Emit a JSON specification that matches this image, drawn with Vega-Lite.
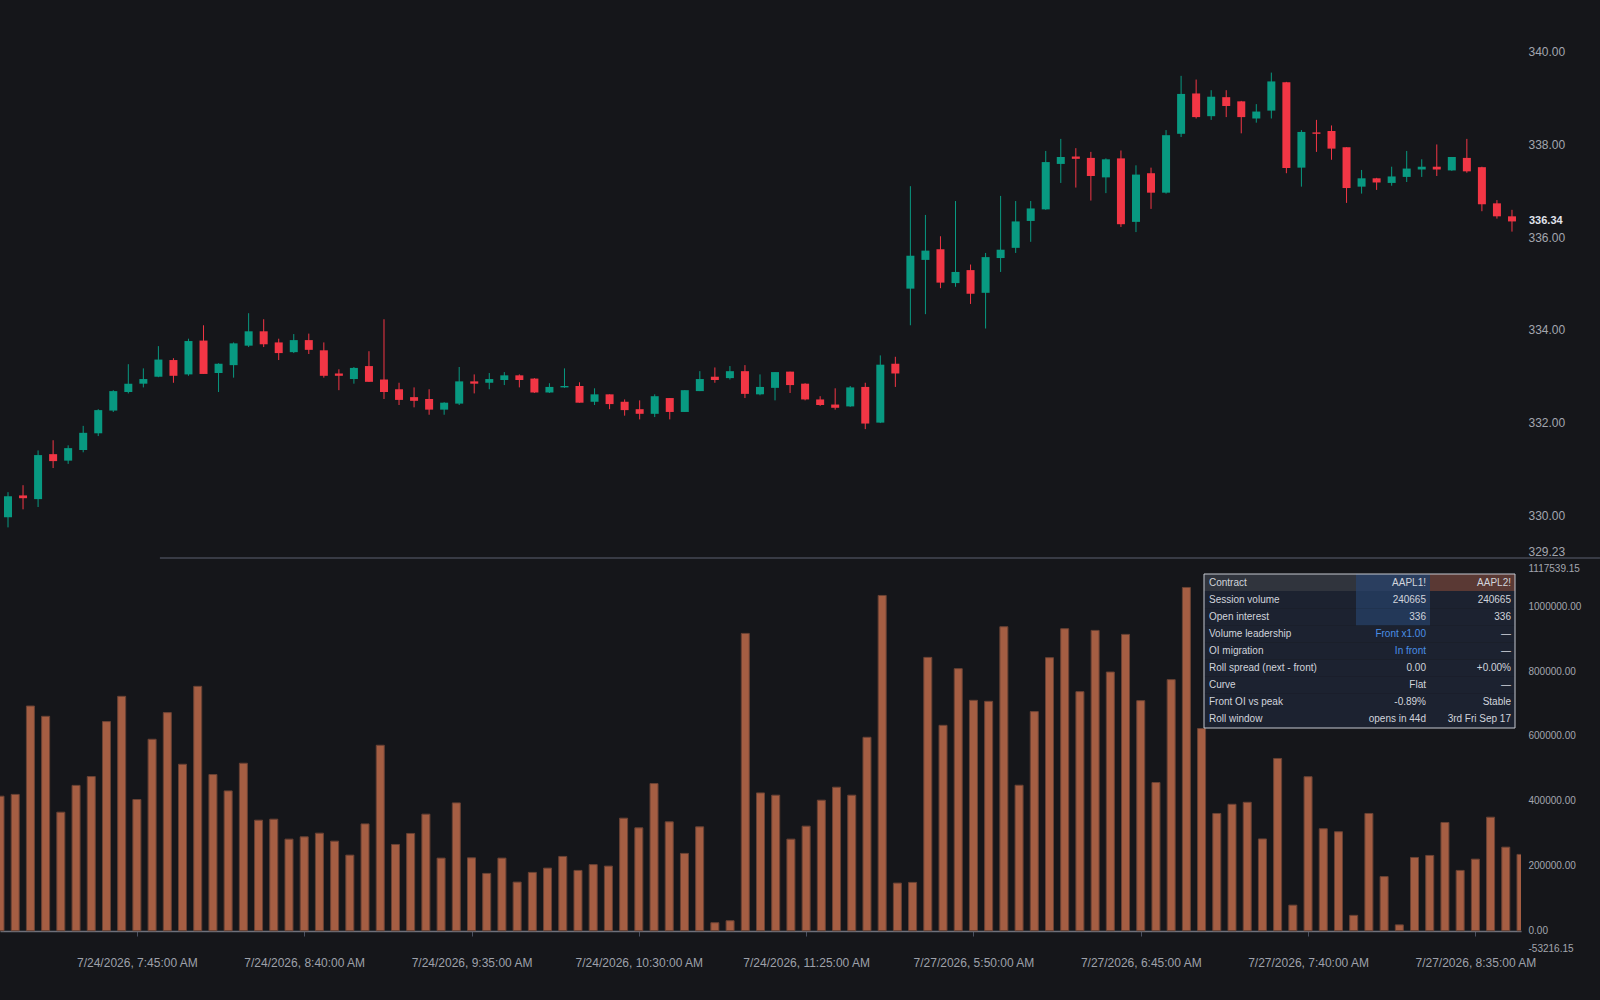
{
  "$schema": "https://vega.github.io/schema/vega-lite/v6.json",
  "background": "#15161a",
  "padding": {"left": 0, "top": 0, "right": 0, "bottom": 32},
  "bounds": "flush",
  "spacing": 10,
  "config": {"view": {"stroke": null}, "font": "Liberation Sans", "axis": {"labelFont": "Liberation Sans"}, "text": {"font": "Liberation Sans"}},
  "datasets": {
    "bars": [
      {"i":0,"o":329.96,"h":330.50,"l":329.74,"c":330.41,"v":414500},
      {"i":1,"o":330.43,"h":330.65,"l":330.13,"c":330.37,"v":420000},
      {"i":2,"o":330.35,"h":331.40,"l":330.18,"c":331.30,"v":692300},
      {"i":3,"o":331.32,"h":331.62,"l":331.02,"c":331.17,"v":660600},
      {"i":4,"o":331.18,"h":331.51,"l":331.11,"c":331.45,"v":365200},
      {"i":5,"o":331.41,"h":331.93,"l":331.36,"c":331.78,"v":447800},
      {"i":6,"o":331.77,"h":332.29,"l":331.71,"c":332.27,"v":475000},
      {"i":7,"o":332.26,"h":332.70,"l":332.23,"c":332.68,"v":644300},
      {"i":8,"o":332.66,"h":333.26,"l":332.63,"c":332.84,"v":722200},
      {"i":9,"o":332.84,"h":333.17,"l":332.76,"c":332.94,"v":404300},
      {"i":10,"o":332.99,"h":333.65,"l":332.98,"c":333.36,"v":589900},
      {"i":11,"o":333.35,"h":333.39,"l":332.86,"c":333.01,"v":672000},
      {"i":12,"o":333.04,"h":333.81,"l":333.01,"c":333.76,"v":512900},
      {"i":13,"o":333.77,"h":334.10,"l":333.05,"c":333.05,"v":753000},
      {"i":14,"o":333.07,"h":333.28,"l":332.66,"c":333.27,"v":481200},
      {"i":15,"o":333.24,"h":333.73,"l":332.97,"c":333.71,"v":430800},
      {"i":16,"o":333.66,"h":334.36,"l":333.63,"c":333.97,"v":516000},
      {"i":17,"o":333.97,"h":334.23,"l":333.63,"c":333.69,"v":340600},
      {"i":18,"o":333.73,"h":333.81,"l":333.35,"c":333.50,"v":343700},
      {"i":19,"o":333.52,"h":333.91,"l":333.50,"c":333.78,"v":282200},
      {"i":20,"o":333.78,"h":333.92,"l":333.48,"c":333.57,"v":289200},
      {"i":21,"o":333.56,"h":333.73,"l":332.97,"c":333.01,"v":300600},
      {"i":22,"o":333.06,"h":333.15,"l":332.70,"c":333.01,"v":276000},
      {"i":23,"o":332.94,"h":333.20,"l":332.84,"c":333.18,"v":232900},
      {"i":24,"o":333.22,"h":333.54,"l":332.88,"c":332.88,"v":329200},
      {"i":25,"o":332.93,"h":334.23,"l":332.51,"c":332.66,"v":571400},
      {"i":26,"o":332.72,"h":332.86,"l":332.38,"c":332.49,"v":265800},
      {"i":27,"o":332.55,"h":332.76,"l":332.33,"c":332.47,"v":299700},
      {"i":28,"o":332.51,"h":332.72,"l":332.17,"c":332.28,"v":359100},
      {"i":29,"o":332.28,"h":332.44,"l":332.17,"c":332.43,"v":223700},
      {"i":30,"o":332.41,"h":333.20,"l":332.38,"c":332.89,"v":393900},
      {"i":31,"o":332.89,"h":333.04,"l":332.63,"c":332.84,"v":224600},
      {"i":32,"o":332.86,"h":333.07,"l":332.72,"c":332.94,"v":176600},
      {"i":33,"o":332.92,"h":333.09,"l":332.81,"c":333.02,"v":223700},
      {"i":34,"o":333.02,"h":333.04,"l":332.76,"c":332.92,"v":149800},
      {"i":35,"o":332.95,"h":332.96,"l":332.64,"c":332.65,"v":179700},
      {"i":36,"o":332.65,"h":332.85,"l":332.64,"c":332.77,"v":192900},
      {"i":37,"o":332.76,"h":333.17,"l":332.75,"c":332.79,"v":228900},
      {"i":38,"o":332.79,"h":332.87,"l":332.43,"c":332.43,"v":185800},
      {"i":39,"o":332.45,"h":332.74,"l":332.38,"c":332.61,"v":203700},
      {"i":40,"o":332.61,"h":332.61,"l":332.29,"c":332.40,"v":199100},
      {"i":41,"o":332.45,"h":332.50,"l":332.15,"c":332.27,"v":346800},
      {"i":42,"o":332.29,"h":332.48,"l":332.07,"c":332.19,"v":316900},
      {"i":43,"o":332.19,"h":332.61,"l":332.12,"c":332.57,"v":453500},
      {"i":44,"o":332.53,"h":332.53,"l":332.07,"c":332.23,"v":335400},
      {"i":45,"o":332.23,"h":332.70,"l":332.23,"c":332.70,"v":238200},
      {"i":46,"o":332.68,"h":333.11,"l":332.68,"c":332.94,"v":320000},
      {"i":47,"o":332.99,"h":333.19,"l":332.86,"c":332.92,"v":24600},
      {"i":48,"o":332.96,"h":333.22,"l":332.93,"c":333.11,"v":30800},
      {"i":49,"o":333.11,"h":333.24,"l":332.53,"c":332.62,"v":916000},
      {"i":50,"o":332.61,"h":333.04,"l":332.59,"c":332.77,"v":424600},
      {"i":51,"o":332.75,"h":333.09,"l":332.48,"c":333.09,"v":417600},
      {"i":52,"o":333.10,"h":333.10,"l":332.64,"c":332.81,"v":282200},
      {"i":53,"o":332.84,"h":332.85,"l":332.48,"c":332.50,"v":322200},
      {"i":54,"o":332.50,"h":332.57,"l":332.36,"c":332.38,"v":402200},
      {"i":55,"o":332.39,"h":332.74,"l":332.28,"c":332.32,"v":442200},
      {"i":56,"o":332.35,"h":332.79,"l":332.34,"c":332.76,"v":417600},
      {"i":57,"o":332.77,"h":332.86,"l":331.86,"c":331.98,"v":596000},
      {"i":58,"o":332.00,"h":333.45,"l":331.99,"c":333.25,"v":1033000},
      {"i":59,"o":333.27,"h":333.42,"l":332.77,"c":333.06,"v":146800},
      {"i":60,"o":334.89,"h":337.10,"l":334.10,"c":335.60,"v":148900},
      {"i":61,"o":335.51,"h":336.48,"l":334.34,"c":335.71,"v":842200},
      {"i":62,"o":335.74,"h":336.02,"l":334.90,"c":335.02,"v":632900},
      {"i":63,"o":335.01,"h":336.78,"l":334.93,"c":335.25,"v":807400},
      {"i":64,"o":335.29,"h":335.41,"l":334.56,"c":334.78,"v":709900},
      {"i":65,"o":334.80,"h":335.66,"l":334.03,"c":335.57,"v":706800},
      {"i":66,"o":335.55,"h":336.89,"l":335.25,"c":335.73,"v":936600},
      {"i":67,"o":335.77,"h":336.78,"l":335.66,"c":336.34,"v":448300},
      {"i":68,"o":336.35,"h":336.78,"l":335.90,"c":336.62,"v":675100},
      {"i":69,"o":336.60,"h":337.86,"l":336.59,"c":337.62,"v":841200},
      {"i":70,"o":337.58,"h":338.12,"l":337.17,"c":337.73,"v":930500},
      {"i":71,"o":337.74,"h":337.92,"l":337.07,"c":337.69,"v":736600},
      {"i":72,"o":337.71,"h":337.84,"l":336.79,"c":337.32,"v":925300},
      {"i":73,"o":337.29,"h":337.70,"l":336.95,"c":337.68,"v":797000},
      {"i":74,"o":337.70,"h":337.87,"l":336.22,"c":336.28,"v":913000},
      {"i":75,"o":336.33,"h":337.55,"l":336.11,"c":337.35,"v":708900},
      {"i":76,"o":337.38,"h":337.50,"l":336.61,"c":336.96,"v":456600},
      {"i":77,"o":336.96,"h":338.31,"l":336.94,"c":338.20,"v":773600},
      {"i":78,"o":338.23,"h":339.48,"l":338.16,"c":339.09,"v":1057600},
      {"i":79,"o":339.10,"h":339.40,"l":338.56,"c":338.59,"v":623000},
      {"i":80,"o":338.61,"h":339.17,"l":338.53,"c":339.03,"v":361300},
      {"i":81,"o":339.02,"h":339.17,"l":338.59,"c":338.83,"v":389600},
      {"i":82,"o":338.93,"h":338.94,"l":338.24,"c":338.59,"v":395700},
      {"i":83,"o":338.56,"h":338.87,"l":338.47,"c":338.71,"v":282800},
      {"i":84,"o":338.73,"h":339.55,"l":338.56,"c":339.36,"v":530800},
      {"i":85,"o":339.34,"h":339.35,"l":337.38,"c":337.49,"v":78800},
      {"i":86,"o":337.50,"h":338.31,"l":337.09,"c":338.27,"v":474500},
      {"i":87,"o":338.26,"h":338.53,"l":337.84,"c":338.23,"v":314200},
      {"i":88,"o":338.29,"h":338.41,"l":337.67,"c":337.91,"v":304900},
      {"i":89,"o":337.94,"h":337.94,"l":336.74,"c":337.06,"v":47400},
      {"i":90,"o":337.09,"h":337.45,"l":336.94,"c":337.27,"v":361300},
      {"i":91,"o":337.27,"h":337.28,"l":337.02,"c":337.18,"v":166800},
      {"i":92,"o":337.17,"h":337.52,"l":337.11,"c":337.31,"v":18000},
      {"i":93,"o":337.30,"h":337.86,"l":337.19,"c":337.48,"v":225800},
      {"i":94,"o":337.46,"h":337.68,"l":337.30,"c":337.52,"v":232000},
      {"i":95,"o":337.52,"h":338.00,"l":337.32,"c":337.46,"v":333500},
      {"i":96,"o":337.44,"h":337.73,"l":337.43,"c":337.73,"v":185800},
      {"i":97,"o":337.71,"h":338.12,"l":337.39,"c":337.42,"v":220600},
      {"i":98,"o":337.51,"h":337.52,"l":336.56,"c":336.71,"v":349800},
      {"i":99,"o":336.73,"h":336.80,"l":336.40,"c":336.45,"v":257500},
      {"i":100,"o":336.45,"h":336.59,"l":336.12,"c":336.34,"v":235100}
    ],
    "table": [
      {"row": 0, "label": "Contract", "front": "AAPL1!", "next": "AAPL2!"},
      {"row": 1, "label": "Session volume", "front": "240665", "next": "240665"},
      {"row": 2, "label": "Open interest", "front": "336", "next": "336"},
      {"row": 3, "label": "Volume leadership", "front": "Front x1.00", "next": "—"},
      {"row": 4, "label": "OI migration", "front": "In front", "next": "—"},
      {"row": 5, "label": "Roll spread (next - front)", "front": "0.00", "next": "+0.00%"},
      {"row": 6, "label": "Curve", "front": "Flat", "next": "—"},
      {"row": 7, "label": "Front OI vs peak", "front": "-0.89%", "next": "Stable"},
      {"row": 8, "label": "Roll window", "front": "opens in 44d", "next": "3rd Fri Sep 17"}
    ],
    "cells": [
      {"row": 0, "c": 0, "ce": 1, "kind": "hdrLabel"},
      {"row": 0, "c": 1, "ce": 2, "kind": "hdrFront"},
      {"row": 0, "c": 2, "ce": 3, "kind": "hdrNext"},
      {"row": 1, "c": 1, "ce": 2, "kind": "front"},
      {"row": 2, "c": 1, "ce": 2, "kind": "front"}
    ]
  },
  "vconcat": [
    {
      "width": 1521,
      "height": 558,
      "data": {"name": "bars"},
      "encoding": {
        "x": {"field": "i", "type": "quantitative", "scale": {"domain": [-0.532, 100.6], "nice": false, "zero": false, "padding": 0}, "axis": null}
      },
      "layer": [
        {
          "mark": {"type": "rule", "strokeWidth": 1},
          "encoding": {
            "y": {"field": "l", "type": "quantitative", "scale": {"domain": [329.08, 341.116], "nice": false, "zero": false},
                  "axis": {"orient": "right", "values": [329.23, 330, 332, 334, 336, 338, 340], "format": ".2f", "labelColor": "#a3a6af", "labelFontSize": 12, "ticks": false, "tickSize": 0, "domain": false, "grid": false, "labelPadding": 7, "title": null, "labelOverlap": false}},
            "y2": {"field": "h"},
            "color": {"condition": {"test": "datum.c >= datum.o", "value": "#089981"}, "value": "#f23645"}
          }
        },
        {
          "mark": {"type": "bar", "size": 8},
          "encoding": {
            "y": {"field": "o", "type": "quantitative"},
            "y2": {"field": "c"},
            "color": {"condition": {"test": "datum.c >= datum.o", "value": "#089981"}, "value": "#f23645"}
          }
        },
        {
          "transform": [{"filter": "datum.i == 100"}],
          "mark": {"type": "text", "align": "left", "baseline": "middle", "dx": 17, "fontWeight": "bold", "fontSize": 11, "color": "#e0e3eb"},
          "encoding": {
            "y": {"field": "c", "type": "quantitative"},
            "text": {"field": "c", "type": "quantitative", "format": ".2f"}
          }
        },
        {
          "transform": [{"filter": "datum.i == 0"}],
          "mark": {"type": "rule", "color": "#454954", "strokeWidth": 1.5, "clip": false},
          "encoding": {
            "x": {"datum": 10.1, "type": "quantitative"},
            "x2": {"datum": 105.85},
            "y": {"datum": 329.08, "type": "quantitative"}
          }
        }
      ]
    },
    {
      "width": 1521,
      "height": 380,
      "layer": [
        {
          "data": {"name": "bars"},
          "mark": {"type": "bar", "size": 8, "fill": "#a55e43", "stroke": "#6a4234", "strokeWidth": 1, "clip": true},
          "encoding": {
            "x": {"field": "i", "type": "quantitative", "scale": {"domain": [0, 100], "nice": false, "zero": false, "padding": 0},
                  "axis": {"values": [9, 20, 31, 42, 53, 64, 75, 86, 97],
                           "labelExpr": "['7/24/2026, 7:45:00 AM','7/24/2026, 8:40:00 AM','7/24/2026, 9:35:00 AM','7/24/2026, 10:30:00 AM','7/24/2026, 11:25:00 AM','7/27/2026, 5:50:00 AM','7/27/2026, 6:45:00 AM','7/27/2026, 7:40:00 AM','7/27/2026, 8:35:00 AM'][round((datum.value-9)/11)]",
                           "offset": -17, "tickSize": 5, "tickColor": "#4b5060", "domainColor": "#6e717b", "domainWidth": 1.5,
                           "labelColor": "#9ea1aa", "labelFontSize": 12, "labelPadding": 21, "grid": false, "title": null, "labelOverlap": false, "labelFlush": false}},
            "y": {"field": "v", "type": "quantitative", "scale": {"domain": [-53216.15, 1117539.15], "nice": false, "zero": false},
                  "axis": {"orient": "right", "values": [-53216.15, 0, 200000, 400000, 600000, 800000, 1000000, 1117539.15], "format": ".2f", "labelExpr": "replace(datum.label, '−', '-')", "labelColor": "#a3a6af", "labelFontSize": 10, "ticks": false, "tickSize": 0, "domain": false, "grid": false, "labelPadding": 7, "title": null, "labelOverlap": false}}
          }
        },
        {
          "layer": [
            {
              "data": {"name": "table"},
              "mark": {"type": "rect", "fill": "#1c2230"},
              "encoding": {
                "x": {"datum": 0, "type": "quantitative", "scale": {"domain": [0, 1, 2, 3], "range": [1204, 1356, 1430, 1515], "nice": false, "zero": false}, "axis": null},
                "x2": {"datum": 3},
                "y": {"field": "row", "type": "ordinal", "scale": {"type": "band", "range": [6, 160], "paddingInner": 0, "paddingOuter": 0}, "axis": null}
              }
            },
            {
              "data": {"name": "cells"},
              "mark": {"type": "rect"},
              "encoding": {
                "x": {"field": "c", "type": "quantitative", "axis": null},
                "x2": {"field": "ce"},
                "y": {"field": "row", "type": "ordinal", "axis": null},
                "fill": {"condition": [
                  {"test": "datum.kind == 'hdrLabel'", "value": "#30343d"},
                  {"test": "datum.kind == 'hdrFront'", "value": "#2a3e5f"},
                  {"test": "datum.kind == 'hdrNext'", "value": "#5a3934"}
                ], "value": "#233858"}
              }
            },
            {
              "data": {"name": "table"},
              "mark": {"type": "text", "align": "left", "baseline": "middle", "dx": 5, "fontSize": 10, "color": "#d1d4dc"},
              "encoding": {
                "x": {"datum": 0, "type": "quantitative"},
                "y": {"field": "row", "type": "ordinal", "axis": null},
                "text": {"field": "label", "type": "nominal"}
              }
            },
            {
              "data": {"name": "table"},
              "mark": {"type": "text", "align": "right", "baseline": "middle", "dx": -4, "fontSize": 10},
              "encoding": {
                "x": {"datum": 2, "type": "quantitative"},
                "y": {"field": "row", "type": "ordinal", "axis": null},
                "text": {"field": "front", "type": "nominal"},
                "color": {"condition": {"test": "datum.row == 3 || datum.row == 4", "value": "#4a8fe7"}, "value": "#d1d4dc"}
              }
            },
            {
              "data": {"name": "table"},
              "mark": {"type": "text", "align": "right", "baseline": "middle", "dx": -4, "fontSize": 10, "color": "#d1d4dc"},
              "encoding": {
                "x": {"datum": 3, "type": "quantitative"},
                "y": {"field": "row", "type": "ordinal", "axis": null},
                "text": {"field": "next", "type": "nominal"}
              }
            }
          ]
        },
        {
          "data": {"name": "table"},
          "transform": [{"filter": "datum.row == 0"}],
          "mark": {"type": "rect", "fill": "#000000", "fillOpacity": 0, "stroke": "#c5c8d0", "strokeWidth": 1},
          "encoding": {
            "x": {"datum": 0, "type": "quantitative", "scale": {"domain": [0, 1, 2, 3], "range": [1204, 1356, 1430, 1515], "nice": false, "zero": false}, "axis": null},
            "x2": {"datum": 3},
            "y": {"datum": 0, "type": "quantitative", "scale": {"domain": [0, 1], "range": [6, 160], "nice": false, "zero": false}, "axis": null},
            "y2": {"datum": 1}
          }
        }
      ],
      "resolve": {"scale": {"x": "independent", "y": "independent"}, "axis": {"x": "independent", "y": "independent"}}
    }
  ]
}
